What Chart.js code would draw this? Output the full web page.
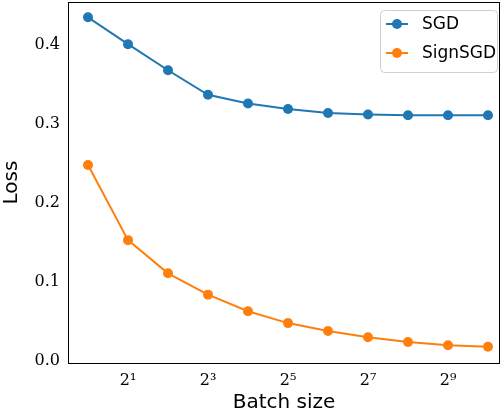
<!DOCTYPE html>
<html lang="en">
<head>
    <title>Loss vs batch size</title>
    <meta charset="utf-8">
    <script src="https://cdn.jsdelivr.net/npm/chart.js@4.4.0/dist/chart.umd.js"></script>
    <style>
        html, body { margin: 0; padding: 0; background: #fff; }
        #wrap { width: 501px; height: 417px; }
    </style>
</head>
<body>
    <div id="wrap"><canvas id="lossChart" width="501" height="417"></canvas></div>

    <script>
        // data: x = log2(batch size)
        const batchExp = [0, 1, 2, 3, 4, 5, 6, 7, 8, 9, 10];
        const sgdLoss = [0.435, 0.401, 0.368, 0.337, 0.326, 0.319, 0.314, 0.312, 0.311, 0.311, 0.311];
        const signSgdLoss = [0.248, 0.153, 0.111, 0.084, 0.063, 0.048, 0.038, 0.030, 0.024, 0.020, 0.018];
        const xTickExp = [1, 3, 5, 7, 9];
        const yTicks = [0, 0.1, 0.2, 0.3, 0.4];

        const sup = { '0': '⁰', '1': '¹', '2': '²', '3': '³', '4': '⁴', '5': '⁵', '6': '⁶', '7': '⁷', '8': '⁸', '9': '⁹' };
        const pow2 = n => '2' + String(n).split('').map(c => sup[c]).join('');

        const blue = '#1f77b4';
        const orange = '#ff7f0e';
        const serif = "'DejaVu Serif', 'Liberation Serif', serif";
        const sans = "'DejaVu Sans', sans-serif";

        // frame around plot + legend box in top-right corner
        const framePlugin = {
            id: 'frame',
            afterDatasetsDraw(chart) {
                const { ctx, chartArea: a } = chart;
                ctx.save();
                ctx.strokeStyle = '#000';
                ctx.lineWidth = 1;
                ctx.strokeRect(a.left + 0.5, a.top + 0.5, a.right - a.left - 1, a.bottom - a.top);

                // legend
                const bx = 380, by = 10, bw = 117, bh = 62;
                ctx.fillStyle = 'rgba(255,255,255,0.8)';
                ctx.strokeStyle = '#d0d0d0';
                ctx.beginPath();
                ctx.roundRect(bx + 0.5, by + 0.5, bw, bh, 4);
                ctx.fill();
                ctx.stroke();
                ctx.font = '17px ' + sans;
                ctx.textBaseline = 'middle';
                chart.data.datasets.forEach((ds, i) => {
                    const y = by + 14 + i * 29;
                    ctx.strokeStyle = ds.borderColor;
                    ctx.lineWidth = 2;
                    ctx.beginPath();
                    ctx.moveTo(bx + 6, y);
                    ctx.lineTo(bx + 28, y);
                    ctx.stroke();
                    ctx.fillStyle = ds.borderColor;
                    ctx.beginPath();
                    ctx.arc(bx + 17, y, 5, 0, Math.PI * 2);
                    ctx.fill();
                    ctx.fillStyle = '#000';
                    ctx.fillText(ds.label, bx + 42, y + 1);
                });
                ctx.restore();
            }
        };

        const noPad = s => { s.paddingTop = 0; s.paddingBottom = 0; s.paddingLeft = 0; s.paddingRight = 0; };

        const ctx = document.getElementById('lossChart').getContext('2d');
        new Chart(ctx, {
            type: 'line',
            data: {
                datasets: [
                    {
                        label: 'SGD',
                        data: batchExp.map((x, i) => ({ x, y: sgdLoss[i] })),
                        borderColor: blue,
                        backgroundColor: blue,
                        borderWidth: 2,
                        pointRadius: 5,
                        pointBorderWidth: 0,
                        fill: false,
                    },
                    {
                        label: 'SignSGD',
                        data: batchExp.map((x, i) => ({ x, y: signSgdLoss[i] })),
                        borderColor: orange,
                        backgroundColor: orange,
                        borderWidth: 2,
                        pointRadius: 5,
                        pointBorderWidth: 0,
                        fill: false,
                    },
                ],
            },
            options: {
                responsive: false,
                animation: false,
                layout: { autoPadding: false, padding: { top: 2, right: 1, left: 0, bottom: 0 } },
                plugins: { legend: { display: false }, tooltip: { enabled: false } },
                scales: {
                    x: {
                        type: 'linear',
                        min: -0.5,
                        max: 10.3,
                        afterBuildTicks: s => { s.ticks = xTickExp.map(v => ({ value: v })); },
                        afterFit: s => { s.height = 54; noPad(s); },
                        grid: { display: false, drawTicks: true, tickLength: 4, tickColor: '#000' },
                        border: { display: false },
                        ticks: {
                            color: '#000',
                            font: { family: serif, size: 16 },
                            padding: 4,
                            maxRotation: 0,
                            callback: v => pow2(v),
                        },
                        title: {
                            display: true,
                            text: 'Batch size',
                            color: '#000',
                            font: { family: sans, size: 20 },
                            padding: { top: 0, bottom: 2 },
                        },
                    },
                    y: {
                        min: -0.0025,
                        max: 0.4544,
                        afterBuildTicks: s => { s.ticks = yTicks.map(v => ({ value: v })); },
                        afterFit: s => { s.width = 68; noPad(s); },
                        grid: { display: false, drawTicks: true, tickLength: 4, tickColor: '#000' },
                        border: { display: false },
                        ticks: {
                            color: '#000',
                            font: { family: serif, size: 16 },
                            padding: 4,
                            callback: v => v.toFixed(1),
                        },
                        title: {
                            display: true,
                            text: 'Loss',
                            color: '#000',
                            font: { family: sans, size: 20 },
                            padding: { top: 0, bottom: 4 },
                        },
                    },
                },
            },
            plugins: [framePlugin],
        });
    </script>
</body>
</html>
